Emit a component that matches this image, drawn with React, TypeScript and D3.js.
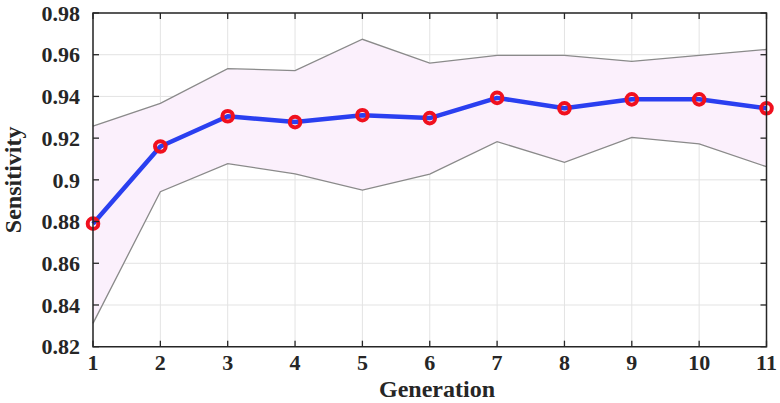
import React from "react";
import * as d3 from "d3";

const generations = [1, 2, 3, 4, 5, 6, 7, 8, 9, 10, 11];
const meanValues = [0.879, 0.916, 0.9305, 0.9277, 0.931, 0.9296, 0.9393, 0.9343, 0.9386, 0.9386, 0.9343];
const upperValues = [0.9258, 0.9367, 0.9533, 0.9524, 0.9674, 0.956, 0.9597, 0.9597, 0.9568, 0.9597, 0.9625];
const lowerValues = [0.8312, 0.8943, 0.9078, 0.9029, 0.8951, 0.9028, 0.9183, 0.9084, 0.9204, 0.9172, 0.9063];
const yTicks = [0.82, 0.84, 0.86, 0.88, 0.9, 0.92, 0.94, 0.96, 0.98];

export default function App() {
  const W = 780, H = 403;
  const left = 93, right = 766.5, top = 13, bottom = 346.7;
  const x = d3.scaleLinear().domain([1, 11]).range([left, right]);
  const y = d3.scaleLinear().domain([0.82, 0.98]).range([bottom, top]);
  const area = d3.area<number>()
    .x((_, i) => x(generations[i]))
    .y0((_, i) => y(lowerValues[i]))
    .y1((_, i) => y(upperValues[i]));
  const line = d3.line<number>().x((_, i) => x(generations[i])).y((d) => y(d));
  const font = "'Liberation Serif', 'Times New Roman', serif";
  const tl = 6;
  return (
    <svg width={W} height={H} style={{ position: "absolute", left: 0, top: 0 }}>
      <rect width={W} height={H} fill="#fff" />
      {generations.map((g) => (
        <line key={"gx" + g} x1={x(g)} x2={x(g)} y1={top} y2={bottom} stroke="#e3e3e3" strokeWidth={1} />
      ))}
      {yTicks.map((t) => (
        <line key={"gy" + t} x1={left} x2={right} y1={y(t)} y2={y(t)} stroke="#e3e3e3" strokeWidth={1} />
      ))}
      <path d={area(meanValues) || ""} fill="#fbf0fc" stroke="none" />
      <path d={line(upperValues) || ""} fill="none" stroke="#8a8a8a" strokeWidth={1.3} />
      <path d={line(lowerValues) || ""} fill="none" stroke="#8a8a8a" strokeWidth={1.3} />
      <path d={line(meanValues) || ""} fill="none" stroke="#2a3ff0" strokeWidth={4.5} strokeLinejoin="round" />
      {meanValues.map((v, i) => (
        <circle key={"m" + i} cx={x(generations[i])} cy={y(v)} r={5.3} fill="none" stroke="#f0101e" strokeWidth={4} />
      ))}
      <path d={`M${left},${top}H${right}V${bottom}H${left}Z`} fill="none" stroke="#262626" strokeWidth={1.5} />
      {generations.map((g) => (
        <g key={"tx" + g}>
          <line x1={x(g)} x2={x(g)} y1={bottom} y2={bottom - tl} stroke="#262626" strokeWidth={1.3} />
          <line x1={x(g)} x2={x(g)} y1={top} y2={top + tl} stroke="#262626" strokeWidth={1.3} />
          <text x={x(g)} y={370} textAnchor="middle" fontFamily={font} fontWeight="bold" fontSize={22} fill="#262626">{g}</text>
        </g>
      ))}
      {yTicks.map((t) => (
        <g key={"ty" + t}>
          <line x1={left} x2={left + tl} y1={y(t)} y2={y(t)} stroke="#262626" strokeWidth={1.3} />
          <line x1={right} x2={right - tl} y1={y(t)} y2={y(t)} stroke="#262626" strokeWidth={1.3} />
          <text x={80} y={y(t)} dy="0.35em" textAnchor="end" fontFamily={font} fontWeight="bold" fontSize={22} fill="#262626">{d3.format("")(+t.toFixed(2))}</text>
        </g>
      ))}
      <text x={437} y={397} textAnchor="middle" fontFamily={font} fontWeight="bold" fontSize={24} fill="#262626">Generation</text>
      <text transform={`translate(21,${(top + bottom) / 2}) rotate(-90)`} textAnchor="middle" fontFamily={font} fontWeight="bold" fontSize={24} fill="#262626">Sensitivity</text>
    </svg>
  );
}
